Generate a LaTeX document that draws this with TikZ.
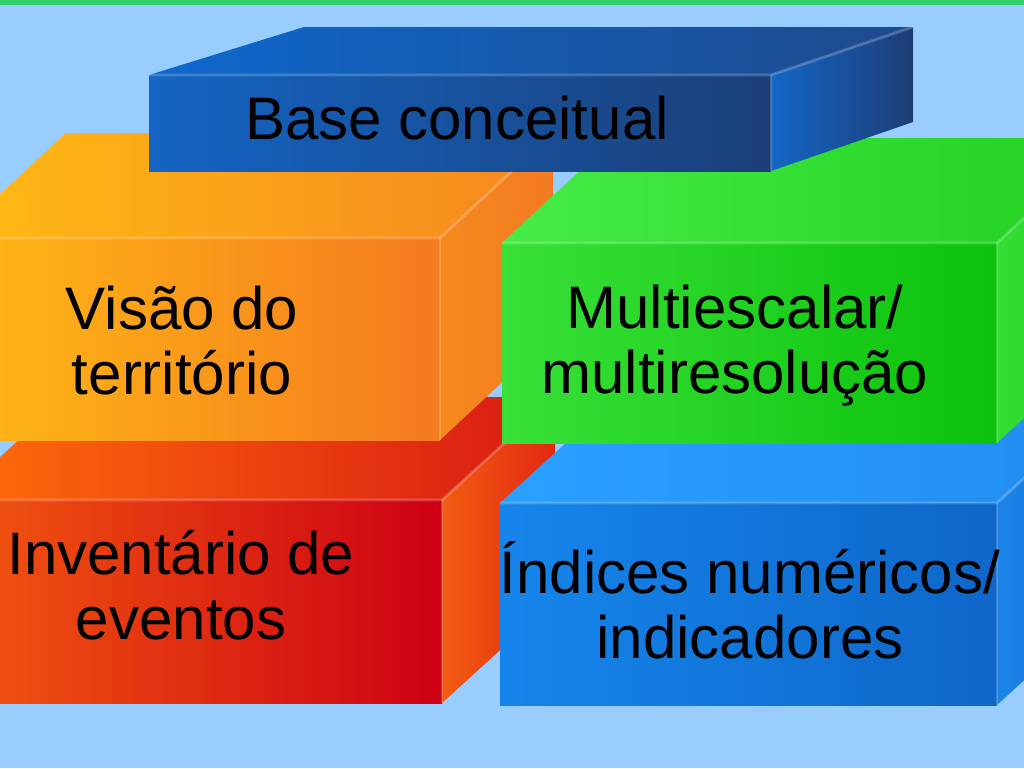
\documentclass[tikz,border=0pt]{standalone}
\usepackage{fontspec}
\setmainfont{Liberation Sans}
\usepackage{xcolor}

\definecolor{fundo}{HTML}{99CCFF}
\definecolor{faixa}{HTML}{33CC66}

\begin{document}
\begin{tikzpicture}[x=0.75pt,y=-0.75pt,
  rotulo/.style={align=center,inner sep=0pt,text=black,font=\fontsize{45}{48.75}\selectfont},
  aresta/.style={white,opacity=0.2,line width=2.2pt}]
  \useasboundingbox (0,0) rectangle (1024,768);
  \clip (0,0) rectangle (1024,768);

  %背景
  \fill[fundo] (0,0) rectangle (1024,768);
  \fill[faixa] (0,0) rectangle (1024,5);

  %赤い箱
  \shade[left color={rgb,255:red,255;green,108;blue,10}, right color={rgb,255:red,216;green,26;blue,20}]
    (-47,500) -- (442,500) -- (555,397) -- (66,397) -- cycle;
  \shade[left color={rgb,255:red,242;green,92;blue,18}, right color={rgb,255:red,226;green,40;blue,18}]
    (442,500) -- (555,397) -- (555,600) -- (442,703) -- cycle;
  \shade[left color={rgb,255:red,242;green,88;blue,16}, right color={rgb,255:red,204;green,0;blue,20}]
    (-47,500) rectangle (442,703);
  \draw[aresta] (-47,500) -- (442,500) -- (555,397);
  \draw[aresta] (442,500) -- (442,703);

  %青い箱(下)
  \shade[left color={rgb,255:red,42;green,160;blue,255}, right color={rgb,255:red,34;green,140;blue,240}]
    (500,503) -- (997,503) -- (1110,400) -- (613,400) -- cycle;
  \shade[left color={rgb,255:red,28;green,132;blue,232}, right color={rgb,255:red,20;green,110;blue,210}]
    (997,503) -- (1110,400) -- (1110,602) -- (997,705) -- cycle;
  \shade[left color={rgb,255:red,22;green,133;blue,235}, right color={rgb,255:red,14;green,102;blue,200}]
    (500,503) rectangle (997,705);
  \draw[aresta] (500,503) -- (997,503) -- (1110,400);
  \draw[aresta] (997,503) -- (997,705);

  %オレンジの箱
  \shade[left color={rgb,255:red,255;green,187;blue,20}, right color={rgb,255:red,245;green,135;blue,31}]
    (-47,238) -- (440,238) -- (553,133) -- (66,133) -- cycle;
  \shade[left color={rgb,255:red,246;green,138;blue,30}, right color={rgb,255:red,243;green,122;blue,34}]
    (440,238) -- (553,133) -- (553,335) -- (440,440) -- cycle;
  \shade[left color={rgb,255:red,255;green,185;blue,21}, right color={rgb,255:red,244;green,122;blue,32}]
    (-47,238) rectangle (440,440);
  \draw[aresta] (-47,238) -- (440,238) -- (553,133);
  \draw[aresta] (440,238) -- (440,440);

  %緑の箱
  \shade[left color={rgb,255:red,72;green,236;blue,72}, right color={rgb,255:red,31;green,208;blue,31}]
    (502,243) -- (997,243) -- (1110,138) -- (615,138) -- cycle;
  \shade[left color={rgb,255:red,51;green,221;blue,51}, right color={rgb,255:red,40;green,210;blue,40}]
    (997,243) -- (1110,138) -- (1110,338) -- (997,443) -- cycle;
  \shade[left color={rgb,255:red,56;green,224;blue,56}, right color={rgb,255:red,12;green,194;blue,12}]
    (502,243) rectangle (997,443);
  \draw[aresta] (502,243) -- (997,243) -- (1110,138);
  \draw[aresta] (997,243) -- (997,443);

  %青い箱(上)
  \shade[left color={rgb,255:red,14;green,104;blue,204}, right color={rgb,255:red,30;green,74;blue,140}]
    (149,75) -- (771,75) -- (913,27) -- (304,27) -- cycle;
  \shade[left color={rgb,255:red,20;green,102;blue,200}, right color={rgb,255:red,28;green,61;blue,116}]
    (771,75) -- (913,27) -- (913,122) -- (771,171) -- cycle;
  \shade[left color={rgb,255:red,20;green,100;blue,195}, right color={rgb,255:red,27;green,63;blue,120}]
    (149,75) rectangle (771,171);
  \draw[aresta] (149,75) -- (771,75) -- (913,27);
  \draw[aresta] (771,75) -- (771,171);

  %文字
  \node[rotulo] (base) at (457,118) {Base conceitual};
  \node[rotulo] (visao) at (182,341) {Visão do\\território};
  \node[rotulo] (multi) at (735,346) {Multiescalar/\\multiresolução};
  \node[rotulo] (inventario) at (181,585) {Inventário de\\eventos};
  \node[rotulo] (indices) at (750,600) {Índices numéricos/\\indicadores};
\end{tikzpicture}
\end{document}
